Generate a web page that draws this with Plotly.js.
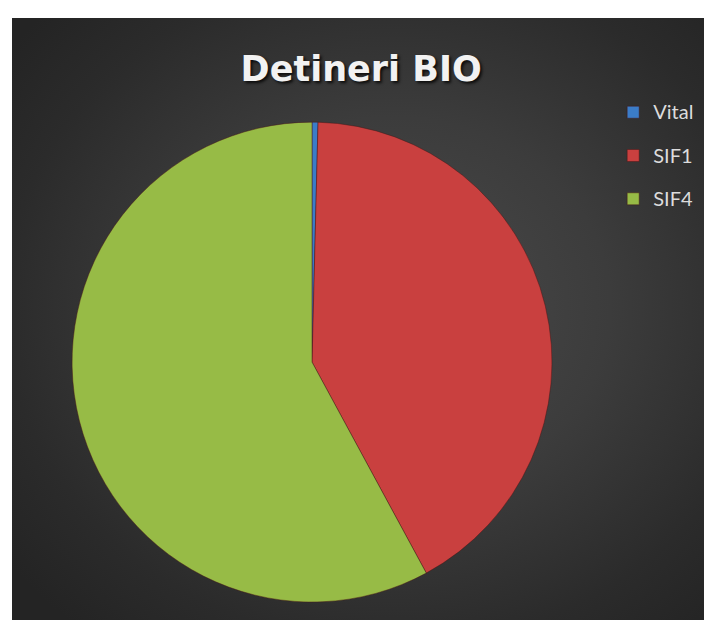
<!DOCTYPE html>
<html>
<head>
<meta charset="utf-8">
<script src="https://cdn.plot.ly/plotly-3.0.1.min.js"></script>
<style>
  html, body { margin: 0; padding: 0; background: #ffffff; }
  #wrap { position: relative; width: 704px; height: 620px; overflow: hidden; }
  #bg { position: absolute; left: 12px; top: 18px; width: 692px; height: 602px;
        background: radial-gradient(ellipse 70% 70% at 55% 48%, #4b4b4b 0%, #3c3c3c 45%, #2b2b2b 80%, #242424 100%); }
  #chart { position: absolute; left: 0; top: 0; width: 704px; height: 620px; }
</style>
</head>
<body>
<div id="wrap">
  <div id="bg"></div>
  <div id="chart"></div>
</div>
<script>
// Data (shares, %)
const categories = ["Vital", "SIF1", "SIF4"];
const values = [0.4, 41.7, 57.9];
const sliceColors = ["#3b7cc8", "#c9403f", "#97bb46"];
const chartTitle = "Detineri BIO";

const legendLabels = categories.map(c => '<span style="font-size:20px;baseline-shift:5px">' + c + '</span>');

const trace = {
  type: "pie",
  labels: legendLabels,
  values: values,
  sort: false,
  direction: "clockwise",
  rotation: 0,
  textinfo: "none",
  hoverinfo: "label+percent",
  marker: { colors: sliceColors, line: { color: "rgba(70,20,20,0.45)", width: 1 } },
  domain: { x: [0.1023, 0.7841], y: [0.029, 0.803] },
  showlegend: true
};

const layout = {
  width: 704, height: 620,
  margin: { l: 0, r: 0, t: 0, b: 0 },
  paper_bgcolor: "rgba(0,0,0,0)",
  plot_bgcolor: "rgba(0,0,0,0)",
  title: {
    text: chartTitle,
    x: 0.513, xanchor: "center",
    y: 0.889, yanchor: "middle",
    font: { family: "DejaVu Sans", size: 35, weight: 700, color: "#f2f2f2", shadow: "2px 2px 3px rgba(0,0,0,0.8)" }
  },
  legend: {
    x: 0.871, xanchor: "left",
    y: 0.862, yanchor: "top",
    bgcolor: "rgba(0,0,0,0)",
    font: { family: "Lato", size: 31, color: "#dcdcdc" },
    itemwidth: 30
  }
};

Plotly.newPlot("chart", [trace], layout, { displayModeBar: false, staticPlot: true });
</script>
</body>
</html>
